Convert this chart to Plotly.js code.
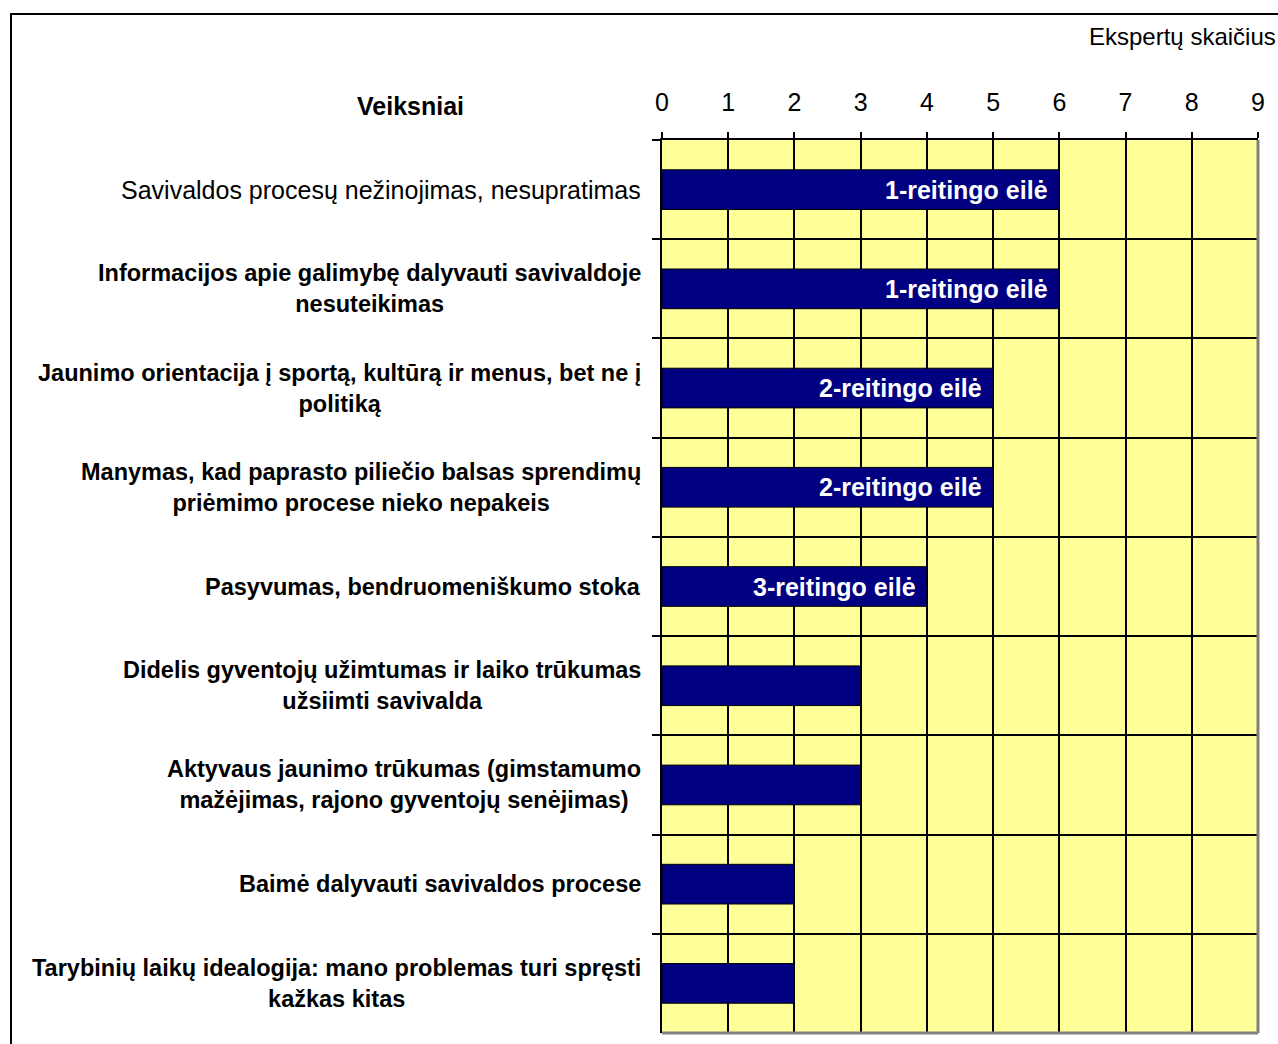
<!DOCTYPE html>
<html>
<head>
<meta charset="utf-8">
<script src="https://cdn.plot.ly/plotly-3.0.1.min.js"></script>
<style>
  html, body { margin: 0; padding: 0; background: #ffffff; }
  #chart { width: 1278px; height: 1044px; }
</style>
</head>
<body>
<div id="chart"></div>
<script>
// ---- data ----
const categories = [
  "Savivaldos procesų nežinojimas, nesupratimas",
  "Informacijos apie galimybę dalyvauti savivaldoje<br>nesuteikimas",
  "Jaunimo orientacija į sportą, kultūrą ir menus, bet ne į<br>politiką",
  "Manymas, kad paprasto piliečio balsas sprendimų<br>priėmimo procese nieko nepakeis",
  "Pasyvumas, bendruomeniškumo stoka",
  "Didelis gyventojų užimtumas ir laiko trūkumas<br>užsiimti savivalda",
  "Aktyvaus jaunimo trūkumas (gimstamumo<br>mažėjimas, rajono gyventojų senėjimas)",
  "Baimė dalyvauti savivaldos procese",
  "Tarybinių laikų idealogija: mano problemas turi spręsti<br>kažkas kitas"
];
const expertCounts = [6, 6, 5, 5, 4, 3, 3, 2, 2];
const ratingLabels = ["1-reitingo eilė", "1-reitingo eilė", "2-reitingo eilė", "2-reitingo eilė", "3-reitingo eilė", "", "", "", ""];
const boldLabel = [false, true, true, true, true, true, true, true, true];
const xTicks = [0, 1, 2, 3, 4, 5, 6, 7, 8, 9];
const xAxisTitle = "Ekspertų skaičius";
const yAxisTitle = "Veiksniai";

const FONT = "Liberation Sans, Arial, sans-serif";
const catIds = categories.map((c, i) => "c" + i);

const trace = {
  type: "bar",
  orientation: "h",
  x: expertCounts,
  y: catIds,
  width: 0.4,
  marker: { color: "#000080", line: { color: "#000000", width: 1 } },
  hoverinfo: "x",
  showlegend: false
};

const annotations = [];
categories.forEach((c, i) => {
  annotations.push({
    xref: "paper", yref: "y",
    x: 0, y: catIds[i],
    xanchor: "right", yanchor: "middle",
    xshift: -19,
    align: "center",
    text: c,
    showarrow: false,
    font: { family: FONT, size: boldLabel[i] ? 23.5 : 25, color: "#000000", weight: boldLabel[i] ? "bold" : "normal" }
  });
  if (ratingLabels[i]) {
    annotations.push({
      xref: "x", yref: "y",
      x: expertCounts[i], y: catIds[i],
      xanchor: "right", yanchor: "middle",
      xshift: -9,
      text: "<b>" + ratingLabels[i] + "</b>",
      showarrow: false,
      font: { family: FONT, size: 25, color: "#ffffff" }
    });
  }
});
annotations.push({
  xref: "paper", yref: "paper", x: 1, y: 1, xanchor: "right", yanchor: "middle",
  xshift: 20, yshift: 104, text: xAxisTitle, showarrow: false,
  font: { family: FONT, size: 24, color: "#000000" }
});
annotations.push({
  xref: "paper", yref: "paper", x: 0, y: 1, xanchor: "center", yanchor: "middle",
  xshift: -252, yshift: 34, text: "<b>" + yAxisTitle + "</b>", showarrow: false,
  font: { family: FONT, size: 25, color: "#000000" }
});

const layout = {
  width: 1278, height: 1044,
  margin: { l: 662, r: 20, t: 140, b: 11, pad: 0 },
  paper_bgcolor: "#ffffff",
  plot_bgcolor: "#ffff99",
  font: { family: FONT, color: "#000000" },
  bargap: 0.6,
  xaxis: {
    side: "top",
    range: [0, 9],
    tickvals: xTicks,
    ticktext: xTicks.map(String),
    ticks: "outside", ticklen: 6, tickcolor: "#000000", tickwidth: 2,
    showgrid: true, gridcolor: "#000000", gridwidth: 2,
    showline: true, linecolor: "#000000", linewidth: 2,
    zeroline: false,
    ticklabelstandoff: 11,
    tickfont: { family: FONT, size: 25, color: "#000000" },
    fixedrange: true
  },
  yaxis: {
    type: "category",
    categoryorder: "array",
    categoryarray: catIds,
    autorange: "reversed",
    tickson: "boundaries",
    ticks: "outside", ticklen: 8, tickcolor: "#000000", tickwidth: 2,
    showgrid: true, gridcolor: "#000000", gridwidth: 2,
    showline: true, linecolor: "#000000", linewidth: 2,
    showticklabels: false,
    zeroline: false,
    fixedrange: true
  },
  shapes: [
    { type: "line", xref: "paper", yref: "paper", x0: 1, x1: 1, y0: 0, y1: 1,
      line: { color: "#808080", width: 3 } },
    { type: "line", xref: "paper", yref: "paper", x0: 0, x1: 1, y0: 0, y1: 0,
      line: { color: "#808080", width: 3 } },
    { type: "rect", xref: "paper", yref: "paper",
      x0: -651 / 596, x1: 1 + 40 / 596, y0: -30 / 893, y1: 1 + 126 / 893,
      line: { color: "#000000", width: 2 }, fillcolor: "rgba(0,0,0,0)", layer: "above" }
  ],
  annotations: annotations
};

Plotly.newPlot("chart", [trace], layout, { displayModeBar: false, staticPlot: true });
</script>
</body>
</html>
